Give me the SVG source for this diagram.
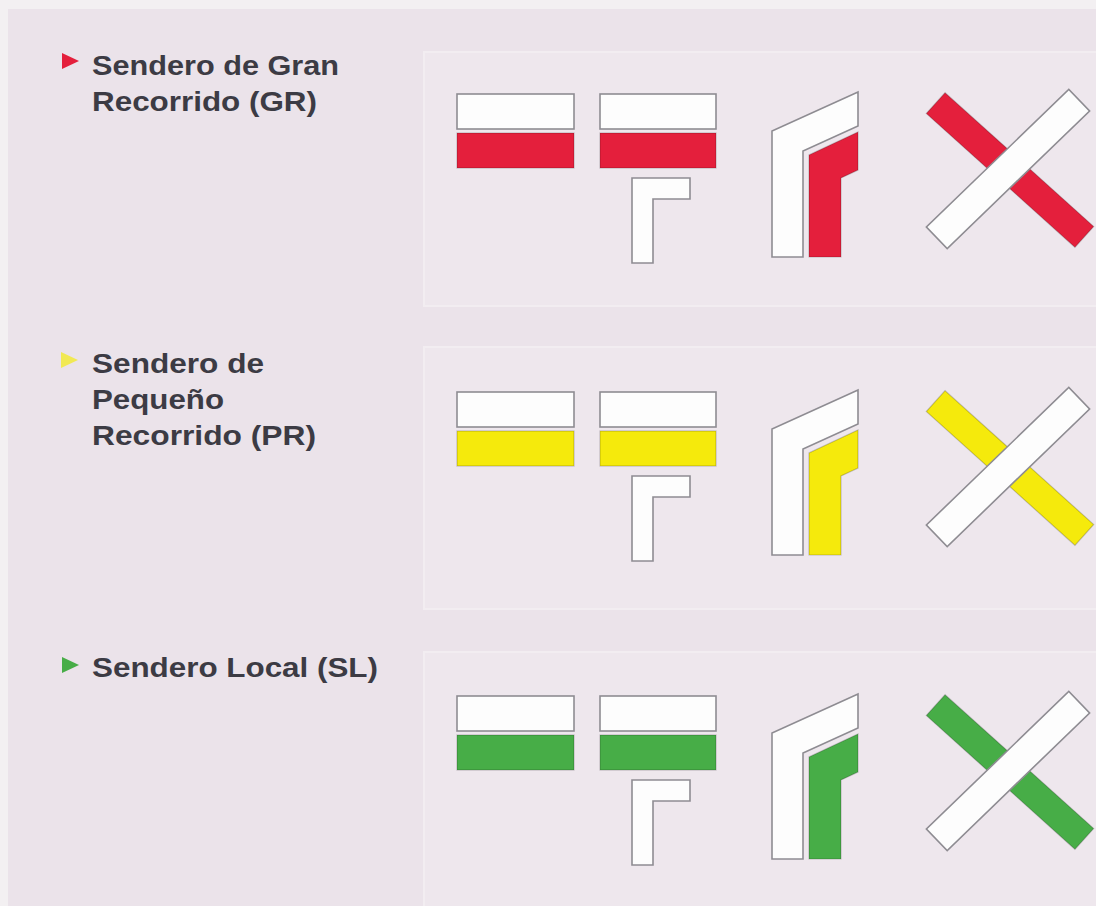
<svg xmlns="http://www.w3.org/2000/svg" xmlns:xlink="http://www.w3.org/1999/xlink" width="1096" height="906" viewBox="0 0 1096 906">
<style>
.w{fill:#fdfdfd;stroke:#8e8c92;stroke-width:1.6;stroke-linejoin:miter}
.c{fill:currentColor;stroke:#000;stroke-opacity:.2;stroke-width:1.2}
.lbl{font-family:"Liberation Sans",Arial,Helvetica,sans-serif;font-weight:700;font-size:28px;fill:#3c3b44}
.panel{fill:#eee7ed;stroke:#f2edf1;stroke-width:2}
.gr{color:#e41f3c}
.pr{color:#f5ea0c}
.sl{color:#47ad47}
</style>
<defs>
<g id="straight">
<rect class="w" x="457" y="94" width="117" height="35"/>
<rect class="c" x="457" y="133" width="117" height="35"/>
</g>
<g id="turn">
<rect class="w" x="600" y="94" width="116" height="35"/>
<rect class="c" x="600" y="133" width="116" height="35"/>
<path class="w" d="M632 178H690V199H653V263H632Z"/>
</g>
<g id="bend">
<path class="w" d="M772 257V131L858 92V126L803 151V257Z"/>
<path class="c" d="M809 257V155L858 132V170L841 178V257Z"/>
</g>
<g id="wrong">
<rect class="c" x="-100" y="-14" width="200" height="28" transform="translate(1010 170) rotate(42)"/>
<rect class="w" x="-99" y="-15" width="198" height="30" transform="translate(1008 169) rotate(-44)"/>
</g>
</defs>
<rect x="0" y="0" width="1096" height="906" fill="#f3f0f2"/>
<rect x="8" y="9" width="1088" height="897" fill="#ebe3ea"/>
<rect class="panel" x="424" y="52" width="674" height="254"/>
<rect class="panel" x="424" y="347" width="674" height="262"/>
<rect class="panel" x="424" y="652" width="674" height="256"/>

<g id="sendero-gr" class="gr">
<path d="M62 53L79 61L62 69Z" fill="#e41f3c"/>
<text class="lbl" x="92" y="75" textLength="247" lengthAdjust="spacingAndGlyphs">Sendero de Gran</text>
<text class="lbl" x="92" y="111" textLength="225" lengthAdjust="spacingAndGlyphs">Recorrido (GR)</text>
<g id="gr-straight"><use xlink:href="#straight" href="#straight"/></g>
<g id="gr-turn"><use xlink:href="#turn" href="#turn"/></g>
<g id="gr-bend"><use xlink:href="#bend" href="#bend"/></g>
<g id="gr-wrong"><use xlink:href="#wrong" href="#wrong"/></g>
</g>

<g id="sendero-pr" class="pr">
<path d="M61 352L78 360L61 368Z" fill="#f2ea3a" opacity="0.85"/>
<text class="lbl" x="92" y="373" textLength="172" lengthAdjust="spacingAndGlyphs">Sendero de</text>
<text class="lbl" x="92" y="409" textLength="132" lengthAdjust="spacingAndGlyphs">Pequeño</text>
<text class="lbl" x="92" y="445" textLength="224" lengthAdjust="spacingAndGlyphs">Recorrido (PR)</text>
<g transform="translate(0 298)">
<g id="pr-straight"><use xlink:href="#straight" href="#straight"/></g>
<g id="pr-turn"><use xlink:href="#turn" href="#turn"/></g>
<g id="pr-bend"><use xlink:href="#bend" href="#bend"/></g>
<g id="pr-wrong"><use xlink:href="#wrong" href="#wrong"/></g>
</g>
</g>

<g id="sendero-sl" class="sl">
<path d="M62 657L79 665L62 673Z" fill="#47ad47"/>
<text class="lbl" x="92" y="677" textLength="286" lengthAdjust="spacingAndGlyphs">Sendero Local (SL)</text>
<g transform="translate(0 602)">
<g id="sl-straight"><use xlink:href="#straight" href="#straight"/></g>
<g id="sl-turn"><use xlink:href="#turn" href="#turn"/></g>
<g id="sl-bend"><use xlink:href="#bend" href="#bend"/></g>
<g id="sl-wrong"><use xlink:href="#wrong" href="#wrong"/></g>
</g>
</g>
</svg>
